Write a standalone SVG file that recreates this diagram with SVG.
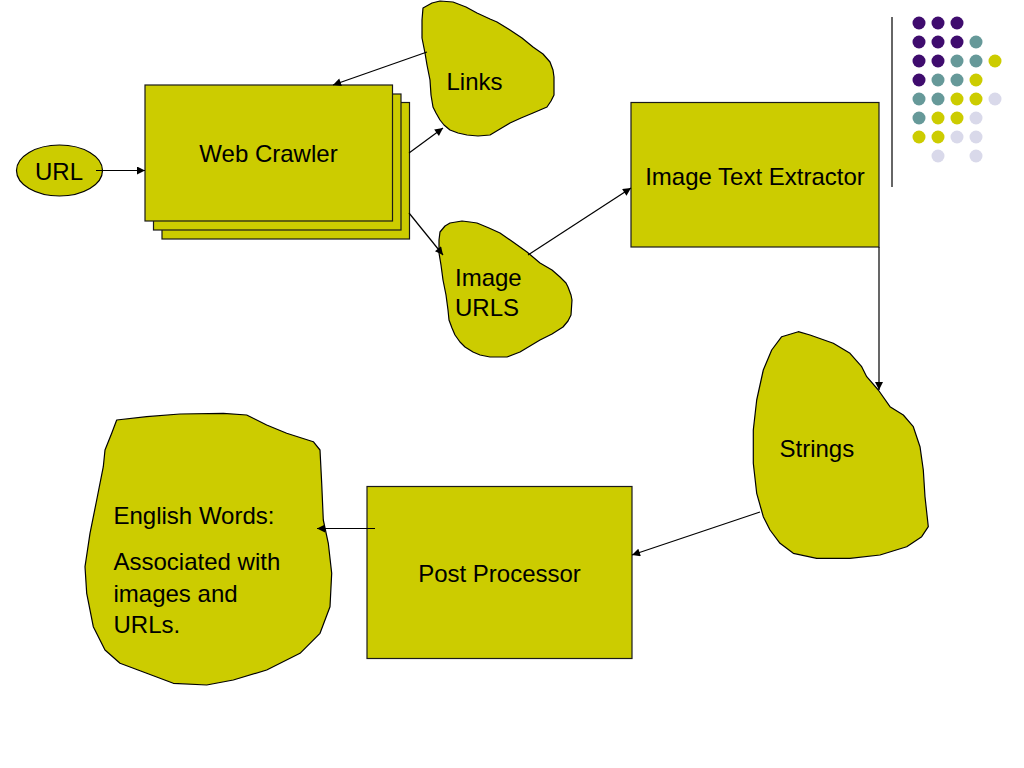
<svg xmlns="http://www.w3.org/2000/svg" width="1024" height="768" viewBox="0 0 1024 768">
<defs>
<marker id="arr" viewBox="0 0 10 10" refX="10" refY="5" markerWidth="9" markerHeight="8" markerUnits="userSpaceOnUse" orient="auto">
<path d="M0,0 L10,5 L0,10 Z" fill="#000"/>
</marker>
<style>
.shape{fill:#cccc00;stroke:#000;stroke-width:1.2;stroke-linejoin:round}
.box{fill:#cccc00;stroke:#1a1a1a;stroke-width:1.2}
.lbl{font-family:"Liberation Sans",Arial,sans-serif;font-size:24px;fill:#000}
.conn{stroke:#000;stroke-width:1.2;fill:none;marker-end:url(#arr)}
.p{fill:#3f0c6e}.t{fill:#669999}.y{fill:#cccc00}.l{fill:#d9d9ea}
</style>
</defs>
<rect width="1024" height="768" fill="#fff"/>

<g id="decor">
<line x1="892" y1="17" x2="892" y2="187" stroke="#333" stroke-width="1.5"/>
<circle class="p" cx="919" cy="23" r="6.5"/><circle class="p" cx="938" cy="23" r="6.5"/><circle class="p" cx="957" cy="23" r="6.5"/>
<circle class="p" cx="919" cy="42" r="6.5"/><circle class="p" cx="938" cy="42" r="6.5"/><circle class="p" cx="957" cy="42" r="6.5"/><circle class="t" cx="976" cy="42" r="6.5"/>
<circle class="p" cx="919" cy="61" r="6.5"/><circle class="p" cx="938" cy="61" r="6.5"/><circle class="t" cx="957" cy="61" r="6.5"/><circle class="t" cx="976" cy="61" r="6.5"/><circle class="y" cx="995" cy="61" r="6.5"/>
<circle class="p" cx="919" cy="80" r="6.5"/><circle class="t" cx="938" cy="80" r="6.5"/><circle class="t" cx="957" cy="80" r="6.5"/><circle class="y" cx="976" cy="80" r="6.5"/>
<circle class="t" cx="919" cy="99" r="6.5"/><circle class="t" cx="938" cy="99" r="6.5"/><circle class="y" cx="957" cy="99" r="6.5"/><circle class="y" cx="976" cy="99" r="6.5"/><circle class="l" cx="995" cy="99" r="6.5"/>
<circle class="t" cx="919" cy="118" r="6.5"/><circle class="y" cx="938" cy="118" r="6.5"/><circle class="y" cx="957" cy="118" r="6.5"/><circle class="l" cx="976" cy="118" r="6.5"/>
<circle class="y" cx="919" cy="137" r="6.5"/><circle class="y" cx="938" cy="137" r="6.5"/><circle class="l" cx="957" cy="137" r="6.5"/><circle class="l" cx="976" cy="137" r="6.5"/>
<circle class="l" cx="938" cy="156" r="6.5"/><circle class="l" cx="976" cy="156" r="6.5"/>
</g>

<g id="url">
<ellipse class="shape" cx="59.5" cy="170.5" rx="43" ry="25.5"/>
<text class="lbl" x="35" y="180">URL</text>
</g>

<g id="web-crawler">
<rect class="box" x="162" y="102.5" width="247.5" height="136.5"/>
<rect class="box" x="153.5" y="94" width="247.5" height="136"/>
<rect class="box" x="145" y="85" width="247.5" height="136"/>
<text class="lbl" x="268.5" y="162" text-anchor="middle">Web Crawler</text>
</g>

<g id="links">
<path class="shape" d="M422,20 L423,8 L432,3 L440,1 L453,2 L466,7 L477,13 L490,19 L497,22 L510,30 L522,38 L533,47 L543,54 L550,62 L553,70 L554,77 L554,95 L551,101 L547,107 L540,110 L533,113 L521,118 L510,123 L500,129 L490,135 L478,136 L467,135 L458,133 L450,130 L444,125 L440,120 L436,113 L433,107 L431,95 L430,80 L427,65 L425,53 L422,38 Z"/>
<text class="lbl" x="446.5" y="89.5">Links</text>
</g>

<g id="image-urls">
<path class="shape" d="M440,232 L445,226 L450,223 L462,221 L470,222 L477,223 L489,228 L500,233 L513,242 L527,252 L540,263 L552,270 L560,277 L566,283 L568,287 L571,295 L572,300 L571,315 L568,321 L563,327 L552,334 L540,340 L530,346 L520,352 L507,357 L490,357 L480,355 L473,352 L465,347 L460,342 L455,335 L452,328 L449,320 L448,310 L446,295 L443,280 L441,265 L439,253 L439,240 Z"/>
<text class="lbl" x="455" y="286">Image</text>
<text class="lbl" x="455" y="316">URLS</text>
</g>

<g id="image-text-extractor">
<rect class="box" x="631" y="102.5" width="248" height="144.5"/>
<text class="lbl" x="755" y="184.5" text-anchor="middle">Image Text Extractor</text>
</g>

<g id="strings">
<path class="shape" d="M771.7,350 L781.7,336.7 L798.3,331.7 L810,335 L833.3,343.3 L850,353.3 L861.7,366.7 L866.7,376.7 L878.3,390 L890,406.7 L903.3,415 L913.3,426.7 L920,446.7 L923.3,470 L925,496.7 L928.3,526.7 L921.7,536.7 L906.7,546.7 L880,555 L850,558.3 L816.7,558.3 L793.3,553.3 L780,543.3 L770,530 L763.3,516.7 L756.7,493.3 L753.3,463.3 L753.3,430 L756.7,400 L763.3,370 Z"/>
<text class="lbl" x="779.5" y="456.5">Strings</text>
</g>

<g id="post-processor">
<rect class="box" x="367" y="486.5" width="265" height="172"/>
<text class="lbl" x="499.5" y="582" text-anchor="middle">Post Processor</text>
</g>

<g id="english-words">
<path class="shape" d="M111.7,433.3 L116.7,420 L146.7,416.7 L180,414 L223.3,413.3 L246.7,415 L266.7,425 L286.7,433.3 L313.3,441.7 L320,450 L321.7,483.3 L323.3,520 L328.3,543.3 L331.7,573.3 L330,606.7 L320,633.3 L300,653.3 L266.7,670 L233.3,680 L206.7,685 L173.3,683.3 L146.7,673.3 L120,663.3 L105,650 L93.3,626.7 L86.7,593.3 L85,566.7 L90,533.3 L96.7,500 L103.3,466.7 L105,450 Z"/>
<text class="lbl" x="113.5" y="524">English Words:</text>
<text class="lbl" x="113.5" y="570">Associated with</text>
<text class="lbl" x="113.5" y="601.5">images and</text>
<text class="lbl" x="113.5" y="632.5">URLs.</text>
</g>

<g id="connectors">
<line class="conn" x1="96" y1="170.5" x2="145" y2="170.5"/>
<line class="conn" x1="427" y1="52" x2="333" y2="85"/>
<line class="conn" x1="409" y1="153" x2="443" y2="128"/>
<line class="conn" x1="409" y1="213" x2="443" y2="255"/>
<line class="conn" x1="528" y1="255" x2="631" y2="188"/>
<line class="conn" x1="879" y1="247" x2="879" y2="390"/>
<line class="conn" x1="760" y1="512" x2="632" y2="555"/>
<line class="conn" x1="375" y1="528.5" x2="317" y2="528.5"/>
</g>
</svg>
